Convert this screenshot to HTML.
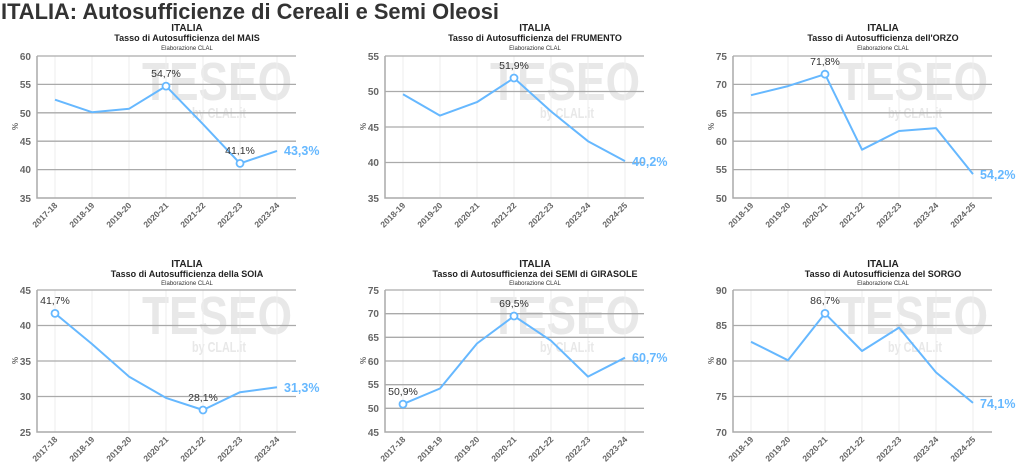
<!DOCTYPE html>
<html><head><meta charset="utf-8"><style>
body{margin:0;background:#fff;width:1024px;height:463px;overflow:hidden}
svg{display:block;font-family:"Liberation Sans",sans-serif}
.t1{font-size:10px;font-weight:bold;fill:#222;text-anchor:middle}
.t3{font-size:6px;fill:#333;text-anchor:middle}
.yl{font-size:10px;font-weight:bold;fill:#666;text-anchor:end}
.xl{font-size:8.5px;font-weight:bold;fill:#666;text-anchor:end}
.g{stroke:#aaa;stroke-width:1.3}
.ax{stroke:#aaa;stroke-width:1.5;fill:none}
.vg{stroke:#eee;stroke-width:1}
.ln{fill:none;stroke:#66b8ff;stroke-width:2;stroke-linejoin:round}
.mk{fill:#fff;stroke:#66b8ff;stroke-width:1.8}
.dl{font-size:10.5px;fill:#333;text-anchor:middle}
.last{font-size:12.5px;font-weight:bold;fill:#66b8ff}
.wm{font-size:54px;font-weight:bold;fill:#e8e8e8}
.wm2{font-size:15px;font-weight:bold;fill:#e8e8e8}
.pc{font-size:8px;font-weight:bold;fill:#666}
</style></head><body>
<svg width="1024" height="463" viewBox="0 0 1024 463">
<text x="1" y="19" textLength="498" lengthAdjust="spacingAndGlyphs" style="font-size:22px;font-weight:bold;fill:#333">ITALIA: Autosufficienze di Cereali e Semi Oleosi</text>

<defs>
<g id="base">
<text x="142" y="100" class="wm" textLength="150" lengthAdjust="spacingAndGlyphs">TESEO</text>
<text x="192" y="118" class="wm2" textLength="54" lengthAdjust="spacingAndGlyphs">by CLAL.it</text>
<line class="vg" x1="55" y1="56" x2="55" y2="198"/><line class="vg" x1="92" y1="56" x2="92" y2="198"/><line class="vg" x1="129" y1="56" x2="129" y2="198"/><line class="vg" x1="166" y1="56" x2="166" y2="198"/><line class="vg" x1="203" y1="56" x2="203" y2="198"/><line class="vg" x1="240" y1="56" x2="240" y2="198"/><line class="vg" x1="277" y1="56" x2="277" y2="198"/>
<line class="g" x1="37" y1="56" x2="296" y2="56"/>
<polyline class="ax" points="37,56 37,198 296,198"/>
<text class="pc" transform="translate(18,130) rotate(-90)">%</text>
</g>
</defs>

<!-- Chart 1 MAIS -->
<g transform="translate(0,0)">
<use href="#base"/>
<text x="187" y="31" class="t1">ITALIA</text>
<text x="187" y="41" class="t1" style="font-size:9px">Tasso di Autosufficienza del MAIS</text>
<text x="187" y="50" class="t3">Elaborazione CLAL</text>
<line class="g" x1="37" y1="84.4" x2="296" y2="84.4"/><line class="g" x1="37" y1="112.8" x2="296" y2="112.8"/><line class="g" x1="37" y1="141.2" x2="296" y2="141.2"/><line class="g" x1="37" y1="169.6" x2="296" y2="169.6"/>
<text class="yl" x="31" y="60">60</text><text class="yl" x="31" y="88">55</text><text class="yl" x="31" y="117">50</text><text class="yl" x="31" y="145">45</text><text class="yl" x="31" y="173">40</text><text class="yl" x="31" y="202">35</text>
<g class="xl"><text transform="translate(58,206) rotate(-45)">2017-18</text><text transform="translate(95,206) rotate(-45)">2018-19</text><text transform="translate(132,206) rotate(-45)">2019-20</text><text transform="translate(169,206) rotate(-45)">2020-21</text><text transform="translate(206,206) rotate(-45)">2021-22</text><text transform="translate(243,206) rotate(-45)">2022-23</text><text transform="translate(280,206) rotate(-45)">2023-24</text></g>
<polyline class="ln" points="55,99.7 92,112.2 129,108.8 166,86.1 203,124.2 240,163.4 277,150.9"/>
<circle class="mk" cx="166" cy="86.1" r="3.5"/><circle class="mk" cx="240" cy="163.4" r="3.5"/>
<text class="dl" x="166" y="77">54,7%</text><text class="dl" x="240" y="154">41,1%</text>
<text class="last" x="284" y="155">43,3%</text>
</g>

<!-- Chart 2 FRUMENTO -->
<g transform="translate(348,0)">
<use href="#base"/>
<text x="187" y="31" class="t1">ITALIA</text>
<text x="187" y="41" class="t1" style="font-size:9px">Tasso di Autosufficienza del FRUMENTO</text>
<text x="187" y="50" class="t3">Elaborazione CLAL</text>
<line class="g" x1="37" y1="91.5" x2="296" y2="91.5"/><line class="g" x1="37" y1="127" x2="296" y2="127"/><line class="g" x1="37" y1="162.5" x2="296" y2="162.5"/>
<text class="yl" x="31" y="60">55</text><text class="yl" x="31" y="95">50</text><text class="yl" x="31" y="131">45</text><text class="yl" x="31" y="166">40</text><text class="yl" x="31" y="202">35</text>
<g class="xl"><text transform="translate(58,206) rotate(-45)">2018-19</text><text transform="translate(95,206) rotate(-45)">2019-20</text><text transform="translate(132,206) rotate(-45)">2020-21</text><text transform="translate(169,206) rotate(-45)">2021-22</text><text transform="translate(206,206) rotate(-45)">2022-23</text><text transform="translate(243,206) rotate(-45)">2023-24</text><text transform="translate(280,206) rotate(-45)">2024-25</text></g>
<polyline class="ln" points="55,94.3 92,115.6 129,102.1 166,78 203,111.4 240,141.2 277,161.1"/>
<circle class="mk" cx="166" cy="78" r="3.5"/>
<text class="dl" x="166" y="69">51,9%</text>
<text class="last" x="284" y="166">40,2%</text>
</g>

<!-- Chart 3 ORZO -->
<g transform="translate(696,0)">
<use href="#base"/>
<text x="187" y="31" class="t1">ITALIA</text>
<text x="187" y="41" class="t1" style="font-size:9px">Tasso di Autosufficienza dell'ORZO</text>
<text x="187" y="50" class="t3">Elaborazione CLAL</text>
<line class="g" x1="37" y1="84.4" x2="296" y2="84.4"/><line class="g" x1="37" y1="112.8" x2="296" y2="112.8"/><line class="g" x1="37" y1="141.2" x2="296" y2="141.2"/><line class="g" x1="37" y1="169.6" x2="296" y2="169.6"/>
<text class="yl" x="31" y="60">75</text><text class="yl" x="31" y="88">70</text><text class="yl" x="31" y="117">65</text><text class="yl" x="31" y="145">60</text><text class="yl" x="31" y="173">55</text><text class="yl" x="31" y="202">50</text>
<g class="xl"><text transform="translate(58,206) rotate(-45)">2018-19</text><text transform="translate(95,206) rotate(-45)">2019-20</text><text transform="translate(132,206) rotate(-45)">2020-21</text><text transform="translate(169,206) rotate(-45)">2021-22</text><text transform="translate(206,206) rotate(-45)">2022-23</text><text transform="translate(243,206) rotate(-45)">2023-24</text><text transform="translate(280,206) rotate(-45)">2024-25</text></g>
<polyline class="ln" points="55,95.2 92,86.1 129,74.2 166,149.7 203,131 240,128.1 277,174.1"/>
<circle class="mk" cx="129" cy="74.2" r="3.5"/>
<text class="dl" x="129" y="65">71,8%</text>
<text class="last" x="284" y="179">54,2%</text>
</g>

<!-- Chart 4 SOIA -->
<g transform="translate(0,234)">
<use href="#base"/>
<text x="187" y="33" class="t1">ITALIA</text>
<text x="187" y="43" class="t1" style="font-size:9px">Tasso di Autosufficienza della SOIA</text>
<text x="187" y="51" class="t3">Elaborazione CLAL</text>
<line class="g" x1="37" y1="91.5" x2="296" y2="91.5"/><line class="g" x1="37" y1="127" x2="296" y2="127"/><line class="g" x1="37" y1="162.5" x2="296" y2="162.5"/>
<text class="yl" x="31" y="60">45</text><text class="yl" x="31" y="95">40</text><text class="yl" x="31" y="131">35</text><text class="yl" x="31" y="166">30</text><text class="yl" x="31" y="202">25</text>
<g class="xl"><text transform="translate(58,206) rotate(-45)">2017-18</text><text transform="translate(95,206) rotate(-45)">2018-19</text><text transform="translate(132,206) rotate(-45)">2019-20</text><text transform="translate(169,206) rotate(-45)">2020-21</text><text transform="translate(206,206) rotate(-45)">2021-22</text><text transform="translate(243,206) rotate(-45)">2022-23</text><text transform="translate(280,206) rotate(-45)">2023-24</text></g>
<polyline class="ln" points="55,79.4 92,110 129,142.6 166,163.9 203,176 240,158.2 277,153.3"/>
<circle class="mk" cx="55" cy="79.4" r="3.5"/><circle class="mk" cx="203" cy="176" r="3.5"/>
<text class="dl" x="55" y="70">41,7%</text><text class="dl" x="203" y="167">28,1%</text>
<text class="last" x="284" y="158">31,3%</text>
</g>

<!-- Chart 5 GIRASOLE -->
<g transform="translate(348,234)">
<use href="#base"/>
<text x="187" y="33" class="t1">ITALIA</text>
<text x="187" y="43" class="t1" style="font-size:9px">Tasso di Autosufficienza dei SEMI di GIRASOLE</text>
<text x="187" y="51" class="t3">Elaborazione CLAL</text>
<line class="g" x1="37" y1="79.7" x2="296" y2="79.7"/><line class="g" x1="37" y1="103.3" x2="296" y2="103.3"/><line class="g" x1="37" y1="127" x2="296" y2="127"/><line class="g" x1="37" y1="150.7" x2="296" y2="150.7"/><line class="g" x1="37" y1="174.3" x2="296" y2="174.3"/>
<text class="yl" x="31" y="60">75</text><text class="yl" x="31" y="83">70</text><text class="yl" x="31" y="107">65</text><text class="yl" x="31" y="131">60</text><text class="yl" x="31" y="154">55</text><text class="yl" x="31" y="178">50</text><text class="yl" x="31" y="202">45</text>
<g class="xl"><text transform="translate(58,206) rotate(-45)">2017-18</text><text transform="translate(95,206) rotate(-45)">2018-19</text><text transform="translate(132,206) rotate(-45)">2019-20</text><text transform="translate(169,206) rotate(-45)">2020-21</text><text transform="translate(206,206) rotate(-45)">2021-22</text><text transform="translate(243,206) rotate(-45)">2022-23</text><text transform="translate(280,206) rotate(-45)">2023-24</text></g>
<polyline class="ln" points="55,170.1 92,154.5 129,109.5 166,82 203,106.7 240,142.6 277,123.7"/>
<circle class="mk" cx="55" cy="170.1" r="3.5"/><circle class="mk" cx="166" cy="82" r="3.5"/>
<text class="dl" x="55" y="161">50,9%</text><text class="dl" x="166" y="73">69,5%</text>
<text class="last" x="284" y="128">60,7%</text>
</g>

<!-- Chart 6 SORGO -->
<g transform="translate(696,234)">
<use href="#base"/>
<text x="187" y="33" class="t1">ITALIA</text>
<text x="187" y="43" class="t1" style="font-size:9px">Tasso di Autosufficienza del SORGO</text>
<text x="187" y="51" class="t3">Elaborazione CLAL</text>
<line class="g" x1="37" y1="91.5" x2="296" y2="91.5"/><line class="g" x1="37" y1="127" x2="296" y2="127"/><line class="g" x1="37" y1="162.5" x2="296" y2="162.5"/>
<text class="yl" x="31" y="60">90</text><text class="yl" x="31" y="95">85</text><text class="yl" x="31" y="131">80</text><text class="yl" x="31" y="166">75</text><text class="yl" x="31" y="202">70</text>
<g class="xl"><text transform="translate(58,206) rotate(-45)">2018-19</text><text transform="translate(95,206) rotate(-45)">2019-20</text><text transform="translate(132,206) rotate(-45)">2020-21</text><text transform="translate(169,206) rotate(-45)">2021-22</text><text transform="translate(206,206) rotate(-45)">2022-23</text><text transform="translate(243,206) rotate(-45)">2023-24</text><text transform="translate(280,206) rotate(-45)">2024-25</text></g>
<polyline class="ln" points="55,107.8 92,126.3 129,79.4 166,117 203,93.6 240,138.4 277,168.9"/>
<circle class="mk" cx="129" cy="79.4" r="3.5"/>
<text class="dl" x="129" y="70">86,7%</text>
<text class="last" x="284" y="174">74,1%</text>
</g>
</svg>
</body></html>
